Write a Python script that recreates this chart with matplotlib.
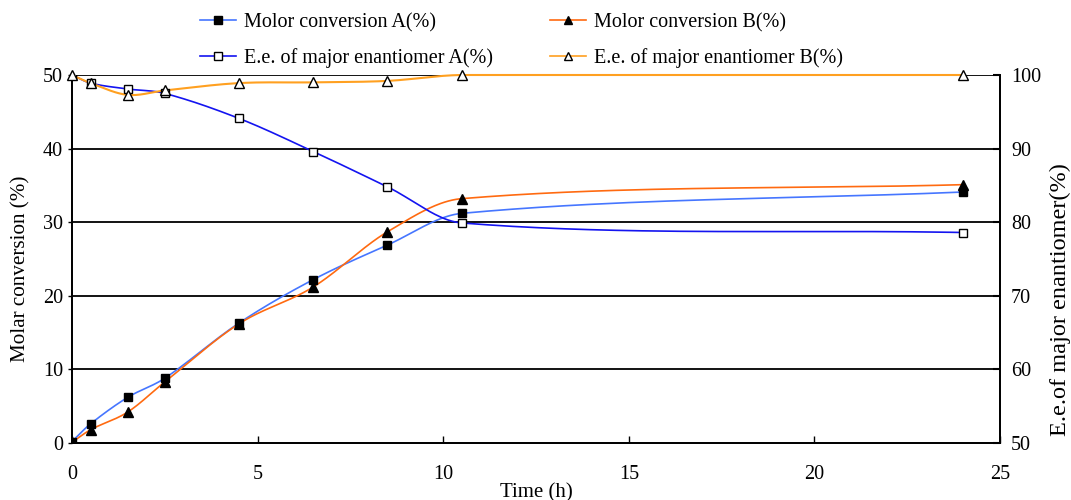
import numpy as np
import matplotlib
matplotlib.use("Agg")
import matplotlib.pyplot as plt
from matplotlib.lines import Line2D

plt.rcParams['font.family'] = ['Liberation Serif', 'DejaVu Serif']

# data
time_h = [0, 0.5, 1.5, 2.5, 4.5, 6.5, 8.5, 10.5, 24]
conv_a = [0.2, 2.6, 6.2, 8.8, 16.3, 22.2, 26.9, 31.2, 34.1]
conv_b = [0.1, 1.8, 4.2, 8.3, 16.2, 21.2, 28.7, 33.2, 35.1]
ee_a = [100.0, 98.9, 98.1, 97.5, 94.1, 89.6, 84.8, 79.9, 78.6]
ee_b = [100.0, 98.9, 97.3, 97.9, 98.9, 99.0, 99.2, 100.0, 100.0]

labels = ["Molor conversion A(%)", "E.e. of major enantiomer A(%)",
          "Molor conversion B(%)", "E.e. of major enantiomer B(%)"]
col_conv_a = "#4676ff"
col_ee_a = "#1414f0"
col_conv_b = "#ff6a10"
col_ee_b = "#ffa020"


def smooth(x, y, n=40):
    # cubic Hermite through the points, tangents from neighbours (smoothed line look)
    x = np.asarray(x, float)
    y = np.asarray(y, float)
    m = np.zeros_like(y)
    m[1:-1] = (y[2:] - y[:-2]) / (x[2:] - x[:-2])
    m[0] = (y[1] - y[0]) / (x[1] - x[0])
    m[-1] = (y[-1] - y[-2]) / (x[-1] - x[-2])
    outx, outy = [], []
    for i in range(len(x) - 1):
        h = x[i + 1] - x[i]
        t = np.linspace(0, 1, n)
        h00 = 2 * t ** 3 - 3 * t ** 2 + 1
        h10 = t ** 3 - 2 * t ** 2 + t
        h01 = -2 * t ** 3 + 3 * t ** 2
        h11 = t ** 3 - t ** 2
        outx.extend(x[i] + t * h)
        outy.extend(h00 * y[i] + h10 * h * m[i] + h01 * y[i + 1] + h11 * h * m[i + 1])
    return np.array(outx), np.array(outy)


fig = plt.figure(figsize=(10.71, 5.0), dpi=100)
ax = fig.add_axes([0.0672, 0.114, 0.8665, 0.736])
ax2 = ax.twinx()

ax.set_xlim(0, 25)
ax.set_ylim(0, 50)
ax2.set_ylim(50, 100)

for yv in range(10, 51, 10):
    ax.axhline(yv, color="black", lw=1.3, zorder=1)

sx, sy = smooth(time_h, conv_a)
ax.plot(sx, sy, color=col_conv_a, lw=1.2, zorder=3)
ax.plot(time_h, conv_a, ls="none", marker="s", ms=6, color="black", zorder=5)
sx, sy = smooth(time_h, conv_b)
ax.plot(sx, sy, color=col_conv_b, lw=1.2, zorder=3)
ax.plot(time_h, conv_b, ls="none", marker="^", ms=6.5, color="black", zorder=5)

sx, sy = smooth(time_h, ee_a)
ax2.plot(sx, sy, color=col_ee_a, lw=1.2, zorder=3)
ax2.plot(time_h, ee_a, ls="none", marker="s", ms=6, mfc="white", mec="black", mew=1.0, zorder=5)
sx, sy = smooth(time_h, ee_b)
ax2.plot(sx, np.minimum(sy, 100), color=col_ee_b, lw=1.5, zorder=3, clip_on=False)
ax2.plot(time_h, ee_b, ls="none", marker="^", ms=6.5, mfc="white", mec="black", mew=1.0,
         zorder=5, clip_on=False)

ax.set_xticks([0, 5, 10, 15, 20, 25])
ax.set_yticks(range(0, 51, 10))
ax2.set_yticks(range(50, 101, 10))
ax.tick_params(axis="x", direction="in", length=5, width=1, labelsize=14.5, pad=16)
ax.tick_params(axis="y", direction="out", length=3, width=1, labelsize=14.5)
ax2.tick_params(axis="y", direction="in", length=5, width=1.5, labelsize=14.5, pad=8)
for a in (ax, ax2):
    a.spines["top"].set_visible(False)
    for s in ("left", "right", "bottom"):
        a.spines[s].set_linewidth(1.3)

ax.set_xlabel("Time (h)", fontsize=15, labelpad=-1)
ax.set_ylabel("Molar conversion (%)", fontsize=15.2)
ax.yaxis.set_label_coords(-0.045, 0.473)
ax2.set_ylabel("E.e.of major enantiomer(%)", fontsize=17.5)
ax2.yaxis.set_label_coords(1.054, 0.39)

handles = [
    Line2D([], [], color=col_conv_a, marker="s", ms=5.5, mfc="black", mec="black", lw=1.2),
    Line2D([], [], color=col_ee_a, marker="s", ms=5.5, mfc="white", mec="black", lw=1.2),
    Line2D([], [], color=col_conv_b, marker="^", ms=5.5, mfc="black", mec="black", lw=1.2),
    Line2D([], [], color=col_ee_b, marker="^", ms=5.5, mfc="white", mec="black", lw=1.2),
]
fig.legend(handles, labels, ncol=2, loc="center", bbox_to_anchor=(0.487, 0.919),
           frameon=False, fontsize=14.5, handlelength=1.8, columnspacing=2.8,
           labelspacing=0.8, handletextpad=0.4)

fig.savefig("out.png", dpi=100)
